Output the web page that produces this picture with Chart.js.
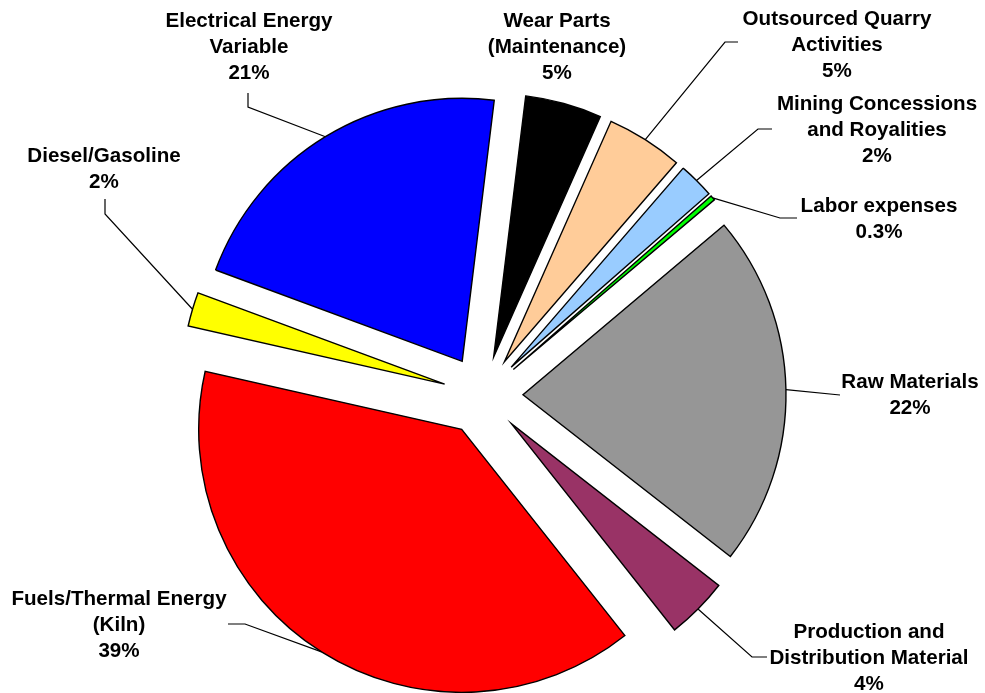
<!DOCTYPE html>
<html>
<head>
<meta charset="utf-8">
<script src="https://cdn.jsdelivr.net/npm/chart.js@4/dist/chart.umd.min.js"></script>
<style>
  html, body { margin: 0; padding: 0; background: #ffffff; }
  #wrap { width: 985px; height: 693px; }
</style>
</head>
<body>
<div id="wrap"><canvas id="c" width="985" height="693"></canvas></div>
<script>
// ---- data (clockwise from the top) ----
const categories = [
  ['Wear Parts', '(Maintenance)'],
  ['Outsourced Quarry', 'Activities'],
  ['Mining Concessions', 'and Royalities'],
  ['Labor expenses'],
  ['Raw Materials'],
  ['Production and', 'Distribution Material'],
  ['Fuels/Thermal Energy', '(Kiln)'],
  ['Diesel/Gasoline'],
  ['Electrical Energy', 'Variable']
];
const shares = [4.7, 4.7, 2.2, 0.3, 21.7, 3.8, 39.2, 2.1, 21.3];
const sliceColors = ['#000000', '#FFCC99', '#99CCFF', '#00FF00', '#969696', '#993366', '#FF0000', '#FFFF00', '#0000FF'];

// ---- layout for labels (text centre x, first baseline y, leader knee points) ----
const labelLayout = [
  { x: 557, y: 27, leader: [] },
  { x: 837, y: 25, leader: [[738, 42], [725, 42]] },
  { x: 877, y: 110, leader: [[772, 129], [758, 129]] },
  { x: 879, y: 212, leader: [[797, 218], [780, 218]] },
  { x: 910, y: 388, leader: [[840, 395]] },
  { x: 869, y: 638, leader: [[767, 657], [752, 657]] },
  { x: 119, y: 605, leader: [[228, 624], [245, 624]] },
  { x: 104, y: 162, leader: [[105, 199], [105, 214]] },
  { x: 249, y: 27, leader: [[248, 93], [248, 107]] }
];
const EXPLODE = 40;
const LINE_PITCH = 26;
const LABEL_FONT = 'bold 20.6px "Liberation Sans", Arial, sans-serif';

function pctText(v) { return v < 1 ? v.toFixed(1) + '%' : Math.round(v) + '%'; }

const explodePlugin = {
  id: 'explodePie',
  beforeDatasetDraw(chart, args) {
    const ctx = chart.ctx;
    args.meta.data.forEach(arc => {
      const mid = (arc.startAngle + arc.endAngle) / 2;
      ctx.save();
      ctx.translate(Math.cos(mid) * EXPLODE, Math.sin(mid) * EXPLODE);
      arc.draw(ctx, chart.chartArea);
      ctx.restore();
    });
    return false;
  }
};

const labelPlugin = {
  id: 'pieLabels',
  afterDraw(chart) {
    const ctx = chart.ctx;
    const meta = chart.getDatasetMeta(0);
    ctx.save();
    meta.data.forEach((arc, i) => {
      const lay = labelLayout[i];
      const mid = (arc.startAngle + arc.endAngle) / 2;
      const rr = arc.outerRadius + EXPLODE;
      const ax = arc.x + Math.cos(mid) * rr;
      const ay = arc.y + Math.sin(mid) * rr;
      if (lay.leader.length) {
        ctx.beginPath();
        ctx.strokeStyle = '#000000';
        ctx.lineWidth = 1.2;
        ctx.moveTo(lay.leader[0][0], lay.leader[0][1]);
        for (let k = 1; k < lay.leader.length; k++) ctx.lineTo(lay.leader[k][0], lay.leader[k][1]);
        ctx.lineTo(ax, ay);
        ctx.stroke();
      }
      const lines = categories[i].concat([pctText(shares[i])]);
      ctx.font = LABEL_FONT;
      ctx.fillStyle = '#000000';
      ctx.textAlign = 'center';
      ctx.textBaseline = 'alphabetic';
      lines.forEach((t, k) => ctx.fillText(t, lay.x, lay.y + k * LINE_PITCH));
    });
    ctx.restore();
  }
};

new Chart(document.getElementById('c'), {
  type: 'pie',
  data: {
    labels: categories,
    datasets: [{
      data: shares,
      backgroundColor: sliceColors,
      borderColor: '#000000',
      borderWidth: 1.4,
      borderJoinStyle: 'miter'
    }]
  },
  options: {
    responsive: false,
    devicePixelRatio: 1,
    animation: false,
    rotation: 7,
    radius: 263,
    layout: { padding: { left: 0, right: 19, top: 100, bottom: 2 } },
    plugins: {
      legend: { display: false },
      tooltip: { enabled: false }
    },
    events: []
  },
  plugins: [explodePlugin, labelPlugin]
});
</script>
</body>
</html>
